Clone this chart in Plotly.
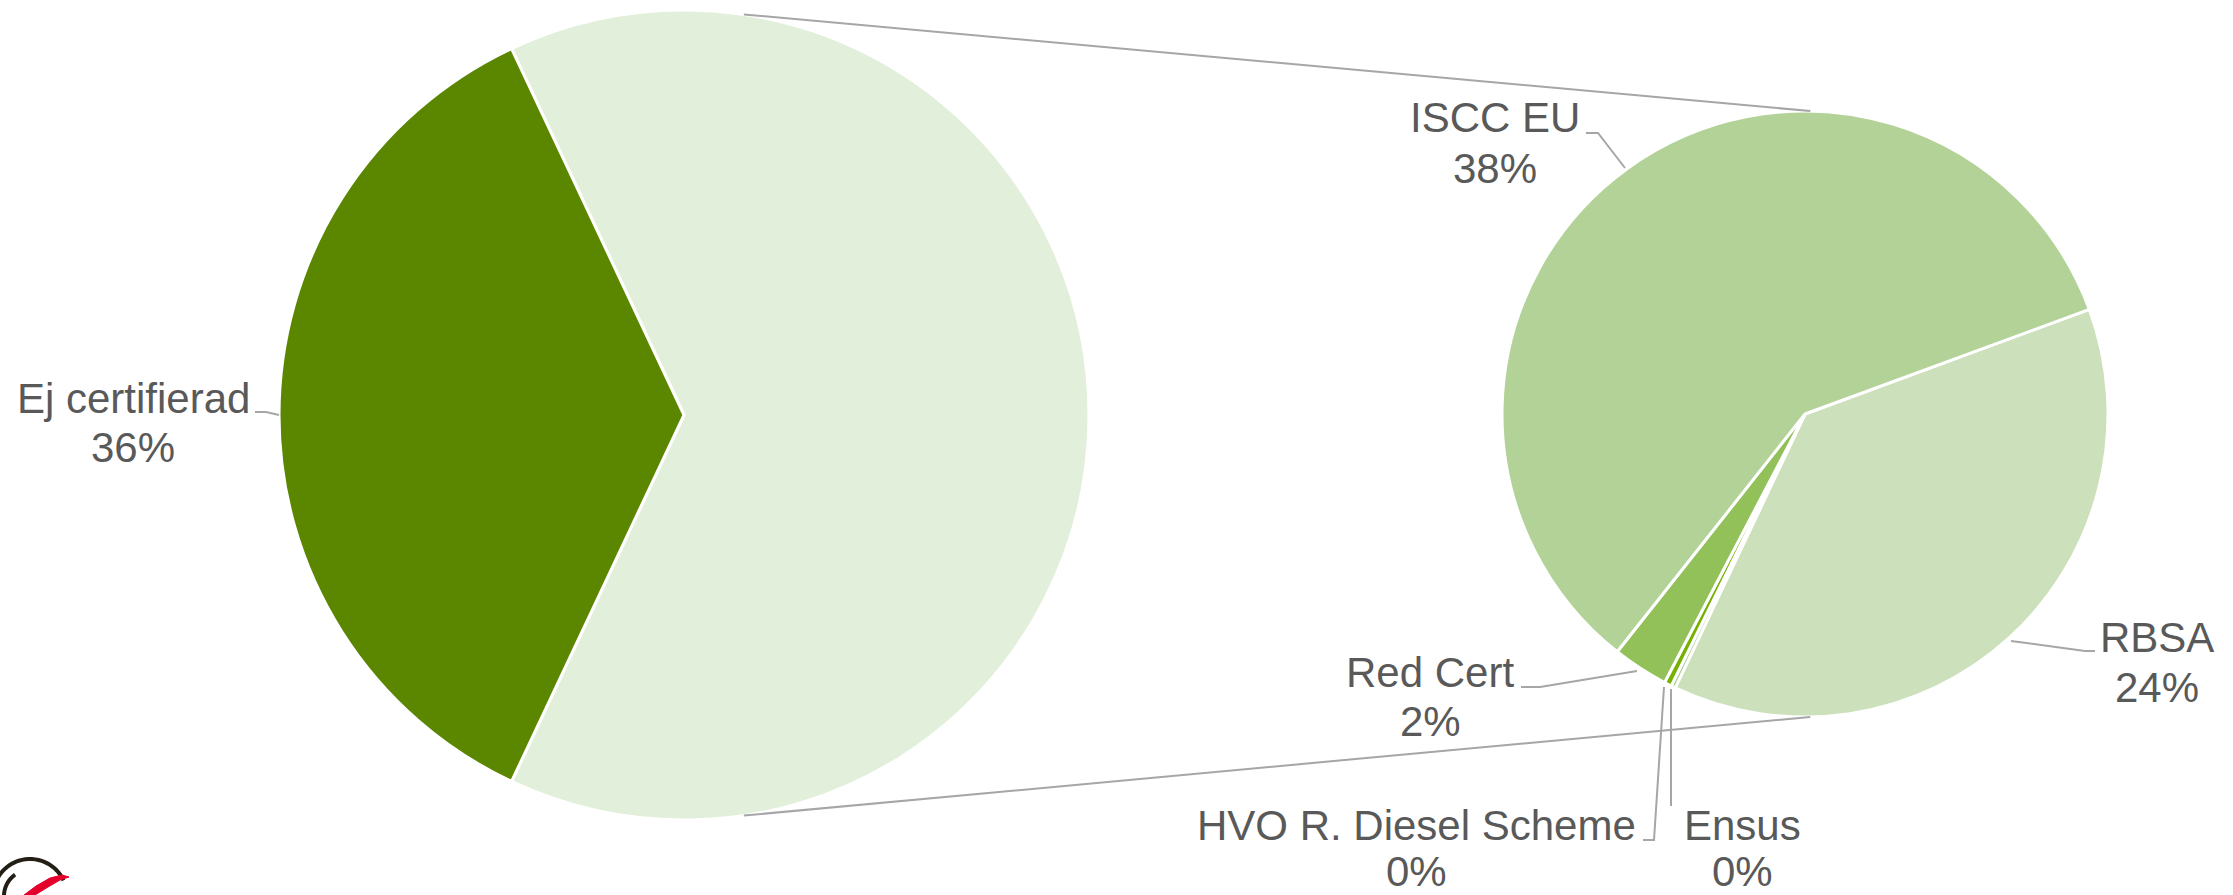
import math
import plotly.graph_objects as go

# ---------------- data ----------------
main_labels = ["Ej certifierad", "Certifierad"]
main_values = [36.0, 64.0]

sub_labels = ["RBSA", "Ensus", "HVO R. Diesel Scheme", "Red Cert", "ISCC EU"]
sub_values = [24.1, 0.15, 0.25, 1.9, 37.6]

# ---------------- styling / layout ----------------
W, H = 2233, 895
FONT = "Liberation Sans, Arial, sans-serif"
TXT = "#595959"
LINE = "#A6A6A6"

main_colors = ["#5B8700", "#E2EFDA"]
sub_colors = ["#CDE0BC", "#A9D18E", "#76B000", "#92C15A", "#B3D297"]

L_CX, L_CY, L_R = 684, 415, 405
R_CX, R_CY, R_R = 1805, 414, 303


def px(x, y):
    return x / W, 1 - y / H


def dom(cx, cy, r):
    x0, y1 = px(cx - r, cy - r)
    x1, y0 = px(cx + r, cy + r)
    return dict(x=[x0, x1], y=[y0, y1])


fig = go.Figure()

# left pie: the certified share is centred on the right side (3 o'clock)
other_share = main_values[1] / sum(main_values)
fig.add_trace(go.Pie(
    labels=[main_labels[1], main_labels[0]],
    values=[main_values[1], main_values[0]],
    sort=False, direction="clockwise",
    rotation=90 - other_share * 360 / 2,
    marker=dict(colors=[main_colors[1], main_colors[0]],
                line=dict(color="white", width=3)),
    textinfo="none", hoverinfo="label+percent",
    domain=dom(L_CX, L_CY, L_R),
))

fig.add_trace(go.Pie(
    labels=sub_labels, values=sub_values,
    sort=False, direction="clockwise", rotation=69.8,
    marker=dict(colors=sub_colors, line=dict(color="white", width=3)),
    textinfo="none", hoverinfo="label+value",
    domain=dom(R_CX, R_CY, R_R),
))

total = sum(main_values)
pct = {lab: f"{round(v / total * 100)}%" for lab, v in
       list(zip(main_labels, main_values)) + list(zip(sub_labels, sub_values))}

# label placement: (center x, baseline line1, baseline line2)
label_pos = {
    "Ej certifierad": (133, 413, 462),
    "ISCC EU": (1495, 133, 183),
    "RBSA": (2157, 652, 702),
    "Red Cert": (1430, 687, 736),
    "HVO R. Diesel Scheme": (1416, 840, 886),
    "Ensus": (1742, 840, 886),
}
annotations = []
for lab, (cx, b1, b2) in label_pos.items():
    for text, b in ((lab, b1), (pct[lab], b2)):
        x, y = px(cx, b - 15)
        annotations.append(dict(
            x=x, y=y, xref="paper", yref="paper", text=text, showarrow=False,
            xanchor="center", yanchor="middle",
            font=dict(family=FONT, size=42, color=TXT)))

leaders = [
    [(255, 412), (266, 412), (279, 415)],
    [(1586, 133), (1598, 133), (1625, 168)],
    [(2095, 651), (2085, 651), (2011, 641)],
    [(1521, 687), (1540, 687), (1637, 671)],
    [(1643, 840), (1654, 840), (1664, 687)],
    [(1671, 806), (1671, 689)],
]
shapes = []
for pts in leaders:
    path = "M " + " L ".join(f"{px(x, y)[0]},{px(x, y)[1]}" for x, y in pts)
    shapes.append(dict(type="path", xref="paper", yref="paper", path=path,
                       line=dict(color=LINE, width=2)))

# connector lines between the two pies
ang_l = math.radians(81.5)
ang_r = math.radians(89.0)
for s in (1, -1):
    x0, y0 = L_CX + L_R * math.cos(ang_l), L_CY - s * L_R * math.sin(ang_l)
    x1, y1 = R_CX + R_R * math.cos(ang_r), R_CY - s * R_R * math.sin(ang_r)
    a, b = px(x0, y0)
    c, d = px(x1, y1)
    shapes.append(dict(type="line", xref="paper", yref="paper",
                       x0=a, y0=b, x1=c, y1=d,
                       line=dict(color=LINE, width=2)))


# logo fragment (bottom-left)
def arc(cx, cy, r, a0, a1, n=30):
    pts = []
    for i in range(n + 1):
        t = math.radians(a0 + (a1 - a0) * i / n)
        pts.append(px(cx + r * math.cos(t), cy - r * math.sin(t)))
    return "M " + " L ".join(f"{x},{y}" for x, y in pts)


shapes.append(dict(type="path", xref="paper", yref="paper",
                   path=arc(30, 896, 37, 180, 25), line=dict(color="#231F14", width=4)))
shapes.append(dict(type="path", xref="paper", yref="paper",
                   path=arc(30, 896, 26, 182, 125), line=dict(color="#231F14", width=4)))
red = [(24, 895), (36, 886), (50, 878), (62, 875), (69, 877), (60, 880), (48, 887), (35, 895)]
shapes.append(dict(type="path", xref="paper", yref="paper",
                   path="M " + " L ".join(f"{px(x, y)[0]},{px(x, y)[1]}" for x, y in red) + " Z",
                   fillcolor="#E4002B", line=dict(color="#E4002B", width=1)))

fig.update_layout(
    width=W, height=H,
    margin=dict(l=0, r=0, t=0, b=0),
    paper_bgcolor="white", plot_bgcolor="white",
    showlegend=False,
    annotations=annotations, shapes=shapes,
)

fig.write_html("out.html", config={"displayModeBar": False})

# remove the browser's default page margin so the figure sits at (0, 0)
with open("out.html", encoding="utf-8") as f:
    html = f.read()
html = html.replace("<head>", "<head><style>html,body{margin:0;padding:0;overflow:hidden;}</style>", 1)
with open("out.html", "w", encoding="utf-8") as f:
    f.write(html)
